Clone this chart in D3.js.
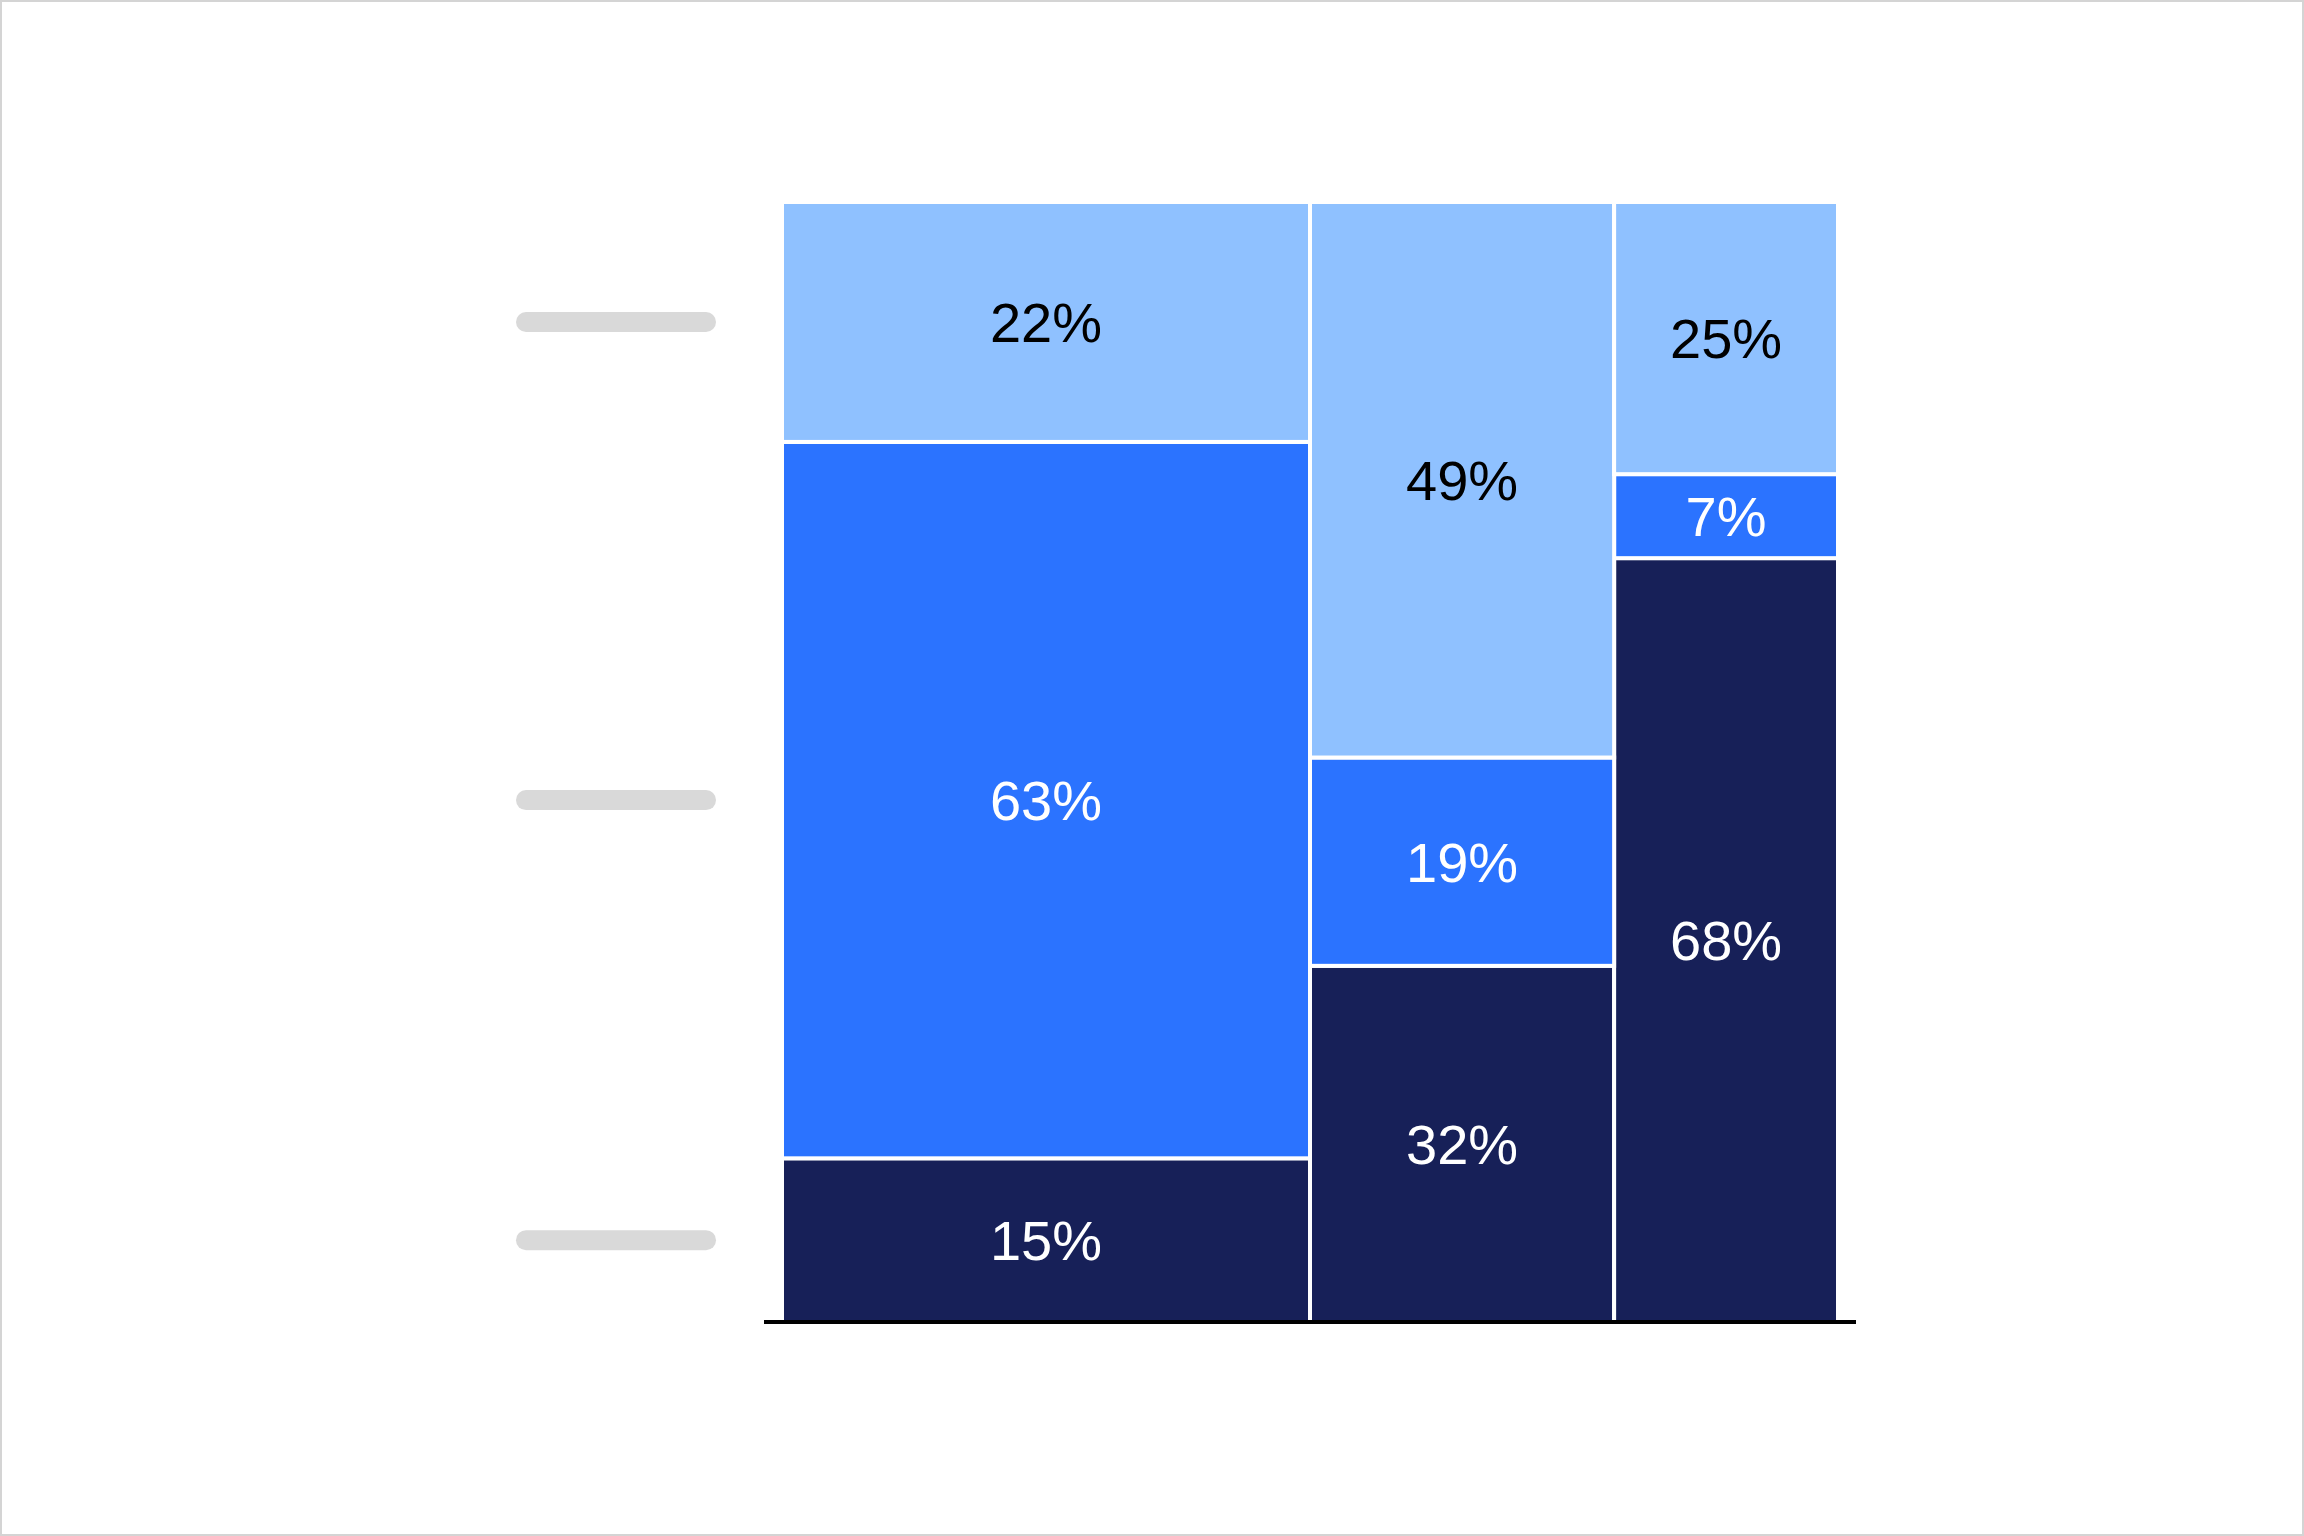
<!DOCTYPE html>
<html>
<head>
<meta charset="utf-8">
<script src="https://cdn.jsdelivr.net/npm/d3@7"></script>
<style>
  html, body { margin: 0; padding: 0; background: #ffffff; }
  svg { display: block; }
</style>
</head>
<body>
<div id="mekko"></div>
<script>
// Column categories (labels hidden in the original) and their widths
var columns = ["Group 1", "Group 2", "Group 3"];
var columnWidths = [50, 28.8, 21.2];

// Segment shares per column (bottom to top)
var darkValues = [14.6, 31.8, 68.2];
var midValues = [63.9, 18.6, 7.5];
var lightValues = [21.4, 49.6, 24.3];

// Labels printed inside the segments
var darkLabels = ["15%", "32%", "68%"];
var midLabels = ["63%", "19%", "7%"];
var lightLabels = ["22%", "49%", "25%"];

var keys = ["dark", "mid", "light"];

var w = 2304;
var h = 1536;
var margin = { top: 202, right: 466, bottom: 214, left: 782 };

var colors = { dark: "#172058", mid: "#2B73FF", light: "#8FC1FF" };
var textColors = { dark: "#ffffff", mid: "#ffffff", light: "#000000" };
var labelsByKey = { dark: darkLabels, mid: midLabels, light: lightLabels };

var svg = d3.select("#mekko")
            .append("svg")
            .attr("width", w)
            .attr("height", h);

// thin frame round the whole picture
svg.append("rect")
   .attr("x", 1)
   .attr("y", 1)
   .attr("width", w - 2)
   .attr("height", h - 2)
   .attr("fill", "#ffffff")
   .attr("stroke", "#d4d4d4")
   .attr("stroke-width", 2);

// build rows: one per column, with its x offset
var offsets = [0].concat(Array.from(d3.cumsum(columnWidths)));
var rows = columns.map((c, i) => ({
    col: c,
    index: i,
    x0: offsets[i],
    x1: offsets[i + 1],
    dark: darkValues[i],
    mid: midValues[i],
    light: lightValues[i]
}));

var series = d3.stack().keys(keys).offset(d3.stackOffsetExpand)(rows);

var xscale = d3.scaleLinear()
               .domain([0, d3.sum(columnWidths)])
               .range([margin.left, w - margin.right]);
var yscale = d3.scaleLinear()
               .domain([0, 1])
               .range([h - margin.bottom, margin.top]);

var groups = svg.selectAll("g.series")
                .data(series)
                .enter()
                .append("g")
                .attr("class", "series")
                .style("fill", d => colors[d.key]);

groups.selectAll("rect")
      .data(d => d)
      .enter()
      .append("rect")
      .attr("x", d => xscale(d.data.x0))
      .attr("y", d => yscale(d[1]))
      .attr("width", d => xscale(d.data.x1) - xscale(d.data.x0))
      .attr("height", d => yscale(d[0]) - yscale(d[1]))
      .attr("stroke", "#ffffff")
      .attr("stroke-width", 4);

// segment labels, centred in each block
var fontSize = 56;
series.forEach(s => {
    svg.selectAll(null)
       .data(s)
       .enter()
       .append("text")
       .attr("x", d => (xscale(d.data.x0) + xscale(d.data.x1)) / 2)
       .attr("y", d => (yscale(d[0]) + yscale(d[1])) / 2 + 0.716 * fontSize / 2)
       .attr("text-anchor", "middle")
       .style("font-family", "'Liberation Sans', Arial, sans-serif")
       .style("font-size", fontSize + "px")
       .style("fill", textColors[s.key])
       .text(d => labelsByKey[s.key][d.data.index]);
});

// grey placeholders for the hidden row labels, next to the first column
var firstCol = series.map(s => s[0]);
svg.selectAll("rect.placeholder")
   .data(firstCol)
   .enter()
   .append("rect")
   .attr("class", "placeholder")
   .attr("x", margin.left - 266)
   .attr("y", d => (yscale(d[0]) + yscale(d[1])) / 2 - 10)
   .attr("width", 200)
   .attr("height", 20)
   .attr("rx", 10)
   .attr("fill", "#d9d9d9");

// baseline
svg.append("line")
   .attr("x1", xscale(0) - 18)
   .attr("x2", xscale(d3.sum(columnWidths)) + 18)
   .attr("y1", yscale(0))
   .attr("y2", yscale(0))
   .attr("stroke", "#000000")
   .attr("stroke-width", 4);
</script>
</body>
</html>
